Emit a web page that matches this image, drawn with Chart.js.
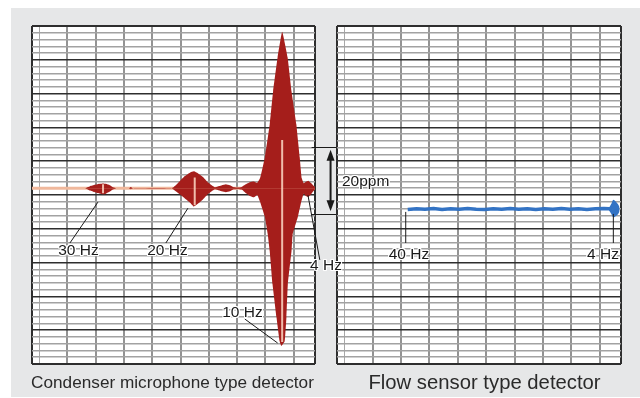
<!DOCTYPE html>
<html><head><meta charset="utf-8">
<script src="https://cdn.jsdelivr.net/npm/chart.js@4.4.1/dist/chart.umd.min.js"></script>
<style>
html,body{margin:0;padding:0;background:#fff;width:640px;height:398px;overflow:hidden;font-family:"Liberation Sans",Arial,Helvetica,sans-serif;}
#bg{position:absolute;left:11px;top:8px;width:629px;height:389px;background:#e6e7e8;}
canvas{position:absolute;left:0;top:0;}
.lbl{position:absolute;transform:translate(-50%,-50%);font-size:15.5px;color:#1a1a1a;white-space:nowrap;
 text-shadow:1px 0 0 #fff,-1px 0 0 #fff,0 1px 0 #fff,0 -1px 0 #fff,1px 1px 0 #fff,-1px -1px 0 #fff,1px -1px 0 #fff,-1px 1px 0 #fff;}
.cap{position:absolute;transform:translate(-50%,-50%);color:#2a2a2a;white-space:nowrap;}
</style></head>
<body>
<div id="bg"></div>
<canvas id="c1" width="640" height="398"></canvas>
<canvas id="c2" width="640" height="398"></canvas>
<div class="lbl" style="left:78.5px;top:250px">30 Hz</div>
<div class="lbl" style="left:167.5px;top:250px">20 Hz</div>
<div class="lbl" style="left:326px;top:265px">4 Hz</div>
<div class="lbl" style="left:242.5px;top:312px">10 Hz</div>
<div class="lbl" style="left:409px;top:254px">40 Hz</div>
<div class="lbl" style="left:603px;top:254px">4 Hz</div>
<div class="lbl" style="left:342px;top:181px;transform:translate(0,-50%)">20ppm</div>
<div class="cap" style="left:172.5px;top:382px;font-size:17.2px">Condenser microphone type detector</div>
<div class="cap" style="left:484.5px;top:382px;font-size:20.3px">Flow sensor type detector</div>
<script>
// ---- grid (chart-paper) positions in axis units ----
const X_GRID = [0, 2.5, 12.5, 22.5, 32.5, 42.5, 52.5, 62.5, 72.5, 82.5, 92.5, 100];
const Y_GRID = [-52,-50,-48,-46,-44,-42,-40,-38,-36,-34,-32,-30,-28,-26,-24,-22,-20,-18,-16,-14,-12,-10,-8,-6,-4,-2,
  0,2,4,6,8,10,12,14,16,18,20,22,24,26,28,30,32,34,36,38,40,42,44,46,48];

// ---- condenser microphone detector: envelope (x, ppm) ----
const micUpper = [
 [0,0],[18.7,0],[20.5,0.6],[22.2,1.0],[24.0,1.3],[25.1,1.4],[26.1,1.3],[27.5,0.9],[28.6,0.3],[29.7,0],
 [34.2,0],[34.9,0.4],[35.7,0],
 [49.4,0],[50.8,0.9],[52.2,2.1],[54.0,3.6],[55.8,4.6],[57.2,5.0],[58.6,4.4],[60.4,3.3],[62.1,1.8],[63.5,0.9],[64.6,0.3],
 [67.1,0.9],[68.5,1.2],[69.9,0.9],[71.3,0.3],[72.7,0.2],
 [74.1,0.4],[75.5,1.2],[77.0,1.8],[78.4,2.0],[79.6,1.6],[80.6,3.0],[81.6,6.5],[82.3,9.2],[84.0,18.9],[85.2,28.7],[86.8,38.8],[88.4,46.3],
 [90.3,38.8],[91.7,28.7],[93.4,18.9],[94.6,9.2],[95.3,3.0],[96.0,1.5],[96.8,1.9],[97.6,2.2],[98.5,1.6],[99.4,0.8],[100,0.3]
];
const micLower = [
 [0,0],[18.7,0],[20.5,-0.7],[22.2,-1.2],[24.0,-1.6],[25.1,-1.8],[26.1,-1.6],[27.5,-1.0],[28.6,-0.4],[29.7,0],
 [34.2,0],[34.9,-0.3],[35.7,0],
 [49.4,0],[50.8,-0.9],[52.2,-1.8],[54.0,-3.0],[55.8,-4.2],[57.2,-5.4],[58.6,-4.6],[60.4,-3.3],[62.1,-1.8],[63.5,-0.9],[64.6,-0.3],
 [67.1,-0.9],[68.5,-1.2],[69.9,-0.9],[71.3,-0.3],[72.7,-0.2],
 [74.1,-0.4],[75.5,-1.4],[77.0,-2.3],[78.4,-2.7],[79.6,-2.0],[80.5,-3.8],[82.3,-8.6],[83.3,-13.6],[84.0,-18.6],[85.0,-28.4],
 [86.4,-38.2],[87.5,-45.3],[88.1,-46.7],[89.3,-45.3],[89.9,-38.2],[90.4,-28.4],[91.7,-18.6],[92.1,-13.6],[93.9,-8.6],
 [95.2,-3.8],[96.0,-1.6],[96.8,-2.3],[97.6,-2.6],[98.5,-1.9],[99.4,-0.9],[100,-0.3]
];
const micBaseline = [[0,0],[100,0]];
const micHighlights = [
 [[25.1,1.2],[25.1,-1.5]],
 [[57.5,3.2],[57.5,-5.0]],
 [[88.4,14.3],[88.4,-45.5]]
];
// leader lines (x1,y1,x2,y2) for 30 Hz, 20 Hz, 4 Hz, 10 Hz
const micLeaders = [[23.3,-4.1,13.4,-16.2],[55.1,-5.9,47.3,-16.2],[97.5,-2.0,101.7,-21.2],[75.2,-38.7,86.8,-45.8]];
// 20 ppm scale bar
const scaleBar = {x1:98.8, x2:112.2, xArrow:105.5, top:12.3, bottom:-7.7};

// ---- flow sensor detector ----
const flowLine = [
 [24.9,-6.3],[28,-6.1],[31,-6.2],[34,-6.0],[37,-6.3],[40,-6.1],[43,-6.2],[46,-6.0],[49,-6.2],[52,-6.3],[55,-6.1],
 [58,-6.2],[61,-6.0],[64,-6.2],[67,-6.1],[70,-6.3],[73,-6.1],[76,-6.2],[79,-6.0],[82,-6.2],[85,-6.1],[88,-6.3],
 [91,-6.1],[94,-6.0],[95.8,-6.1],[97.3,-5.8],[98.3,-6.2],[99.3,-6.0]
];
const flowBlobUpper = [[95.6,-6.0],[96.6,-4.6],[97.3,-3.4],[98.2,-4.0],[99.0,-4.8],[99.5,-5.6]];
const flowBlobLower = [[95.6,-6.4],[96.6,-7.6],[97.3,-8.6],[98.2,-8.2],[99.0,-7.6],[99.5,-6.8]];
const flowLeaders = [[24.2,-7.0,24.2,-16.2],[97.3,-7.6,97.3,-16.2]];

const pts = a => a.map(p => ({x:p[0], y:p[1]}));

function scales(){
  return {
    x:{type:'linear',min:0,max:100,
       afterBuildTicks:s=>{s.ticks = X_GRID.map(v=>({value:v}));},
       ticks:{display:false},
       border:{display:false},
       grid:{drawTicks:false,
         color:c=>{const v=c.tick.value; return (v===0||v===100)?'#2e2e2e':(v===2.5?'#a8a8a8':'#939393');},
         lineWidth:c=>{const v=c.tick.value; return (v===0||v===100)?2:(v===2.5?1:2);}}},
    y:{type:'linear',min:-52,max:48,
       afterBuildTicks:s=>{s.ticks = Y_GRID.map(v=>({value:v}));},
       ticks:{display:false},
       border:{display:false},
       grid:{drawTicks:false,
         color:c=>{const v=c.tick.value; return ((v+52)%10===0)?'#2e2e2e':'#a2a2a2';},
         lineWidth:c=>{const v=c.tick.value; return (v===-52||v===48)?2:(((v+52)%10===0)?1.6:1.5);}}}
  };
}

const paperBg = {id:'paperBg', beforeDraw(ch){const a=ch.chartArea,ctx=ch.ctx;ctx.save();ctx.fillStyle='#ffffff';ctx.fillRect(a.left,a.top,a.right-a.left,a.bottom-a.top);ctx.restore();}};

function leaderPlugin(list, bar){
  return {id:'leaders', afterDatasetsDraw(ch){
    const ctx=ch.ctx, xs=ch.scales.x, ys=ch.scales.y;
    ctx.save();
    ctx.strokeStyle='#1a1a1a'; ctx.lineWidth=1;
    list.forEach(l=>{ctx.beginPath();ctx.moveTo(xs.getPixelForValue(l[0]),ys.getPixelForValue(l[1]));ctx.lineTo(xs.getPixelForValue(l[2]),ys.getPixelForValue(l[3]));ctx.stroke();});
    if(bar){
      const x1=xs.getPixelForValue(bar.x1), x2=xs.getPixelForValue(bar.x2), xa=xs.getPixelForValue(bar.xArrow);
      const yt=ys.getPixelForValue(bar.top), yb=ys.getPixelForValue(bar.bottom);
      ctx.lineWidth=1.2;
      ctx.beginPath();ctx.moveTo(x1,Math.round(yt)+0.5);ctx.lineTo(x2,Math.round(yt)+0.5);ctx.stroke();
      ctx.beginPath();ctx.moveTo(x1,Math.round(yb)+0.5);ctx.lineTo(x2,Math.round(yb)+0.5);ctx.stroke();
      ctx.lineWidth=2;
      ctx.beginPath();ctx.moveTo(xa,yt+8);ctx.lineTo(xa,yb-8);ctx.stroke();
      ctx.fillStyle='#1a1a1a';
      ctx.beginPath();ctx.moveTo(xa,yt+3);ctx.lineTo(xa-4,yt+14);ctx.lineTo(xa+4,yt+14);ctx.closePath();ctx.fill();
      ctx.beginPath();ctx.moveTo(xa,yb-3);ctx.lineTo(xa-4,yb-14);ctx.lineTo(xa+4,yb-14);ctx.closePath();ctx.fill();
    }
    ctx.restore();
  }};
}

const common = {responsive:false, animation:false, events:[],
  plugins:{legend:{display:false}, tooltip:{enabled:false}},
  elements:{point:{radius:0}}};

const red = '#a51e1b';
const micDatasets = [
  ...micHighlights.map((h,i)=>({data:pts(h), borderColor:'rgba(248,206,188,0.9)', borderWidth:2, fill:false, order:i})),
  {data:pts(micUpper), borderColor:'rgba(0,0,0,0)', borderWidth:0, backgroundColor:red, fill:'origin', tension:0.1, order:10},
  {data:pts(micLower), borderColor:'rgba(0,0,0,0)', borderWidth:0, backgroundColor:red, fill:'origin', tension:0.1, order:11},
  {data:pts(micBaseline), borderColor:'#f0b89c', borderWidth:3, fill:false, order:20}
];

new Chart(document.getElementById('c1'), {
  type:'line',
  data:{datasets:micDatasets},
  options:{...common, layout:{padding:{left:32,top:26,right:325,bottom:34}}, scales:scales()},
  plugins:[paperBg, leaderPlugin(micLeaders, scaleBar)]
});

const blue = '#3373c4';
new Chart(document.getElementById('c2'), {
  type:'line',
  data:{datasets:[
    {data:pts(flowBlobUpper), borderColor:'rgba(0,0,0,0)', borderWidth:0, backgroundColor:blue, fill:{value:-6.2}, cubicInterpolationMode:'monotone', order:1},
    {data:pts(flowBlobLower), borderColor:'rgba(0,0,0,0)', borderWidth:0, backgroundColor:blue, fill:{value:-6.2}, cubicInterpolationMode:'monotone', order:2},
    {data:pts(flowLine), borderColor:blue, borderWidth:3.5, fill:false, order:3}
  ]},
  options:{...common, layout:{padding:{left:337,top:26,right:19,bottom:34}}, scales:scales()},
  plugins:[paperBg, leaderPlugin(flowLeaders, null)]
});
</script>
</body></html>
